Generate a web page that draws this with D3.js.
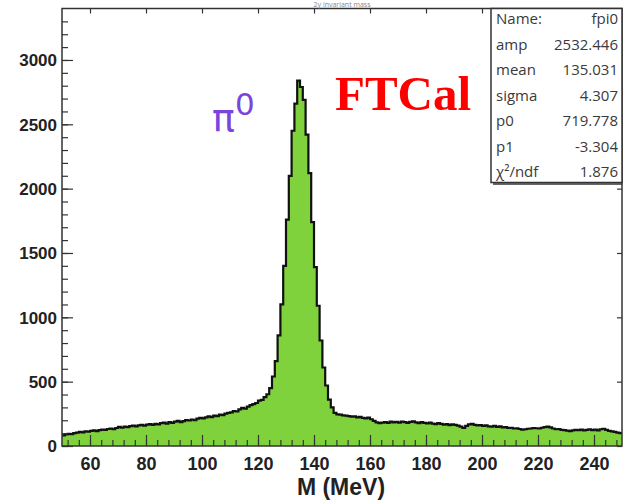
<!DOCTYPE html>
<html>
<head>
<meta charset="utf-8">
<script src="https://cdn.jsdelivr.net/npm/d3@7/dist/d3.min.js"></script>
<style>
  html, body { margin: 0; padding: 0; background: #fff; }
  svg { display: block; }
</style>
</head>
<body>
<svg id="chart" width="625" height="500"></svg>
<script>
// Two-photon invariant mass spectrum, 1 MeV bins from 50 to 250 MeV
const massMin = 50;
const massMax = 250;
const binWidth = 1;
const counts = [
  82, 90, 95, 92, 100, 104, 110, 106, 114, 112,
  118, 122, 116, 124, 128, 125, 132, 136, 130, 140,
  148, 142, 150, 146, 154, 158, 152, 160, 164, 158,
  166, 170, 164, 172, 168, 178, 182, 174, 186, 180,
  190, 196, 186, 194, 202, 198, 206, 200, 212, 218,
  214, 222, 230, 224, 236, 232, 244, 240, 252, 258,
  262, 272, 268, 284, 296, 290, 306, 318, 326, 334,
  352, 358, 380, 402, 450, 540, 660, 860, 1100, 1400,
  1760, 2100, 2450, 2660, 2840, 2790, 2690, 2420, 2120, 1740,
  1390, 1090, 820, 610, 470, 360, 300, 258, 246,
  244, 238, 236, 232, 228, 230, 222, 226, 218, 214, 220,
  208, 196, 184, 178, 182, 186, 180, 190, 184, 188,
  182, 190, 186, 180, 188, 192, 184, 178, 186, 180,
  176, 182, 174, 170, 178, 172, 166, 170, 162, 168,
  164, 158, 150, 140, 156, 168, 172, 164, 160, 162,
  156, 160, 152, 150, 156, 148, 152, 144, 146, 140,
  142, 136, 138, 132, 128, 130, 134, 136, 140, 138,
  136, 142, 146, 150, 144, 136, 130, 132, 126, 124,
  120, 116, 122, 126, 124, 128, 122, 126, 130, 124,
  128, 122, 130, 134, 126, 118, 114, 110, 104, 100
];

const xTicks = [60, 80, 100, 120, 140, 160, 180, 200, 220, 240];
const xMinorTicks = d3.range(52, 250, 4);
const yTicks = [0, 500, 1000, 1500, 2000, 2500, 3000];
const yMinorTicks = d3.range(0, 3400, 100);

// Fit results shown in the statistics box
const statNames = ["Name:", "amp", "mean", "sigma", "p0", "p1", "\u03c7\u00b2/ndf"];
const statValues = ["fpi0", "2532.446", "135.031", "4.307", "719.778", "-3.304", "1.876"];

const svg = d3.select("#chart");
const frame = { left: 62, right: 622, top: 8.5, bottom: 446 };

const x = d3.scaleLinear().domain([massMin, massMax]).range([frame.left, frame.right]);
const y = d3.scaleLinear().domain([0, 3400]).range([frame.bottom, frame.top]);

const bins = counts.map((c, i) => ({ x0: massMin + i * binWidth, x1: massMin + (i + 1) * binWidth, v: c }));

// Histogram as a step area with a black outline
const stepPts = [];
bins.forEach(b => { stepPts.push([b.x0, b.v]); stepPts.push([b.x1, b.v]); });

svg.append("clipPath").attr("id", "plotClip")
  .append("rect").attr("x", frame.left).attr("y", frame.top)
  .attr("width", frame.right - frame.left).attr("height", frame.bottom - frame.top);

const plot = svg.append("g").attr("clip-path", "url(#plotClip)");

plot.append("path")
  .datum(stepPts)
  .attr("fill", "#7fd23c")
  .attr("d", d3.area().x(d => x(d[0])).y0(y(0)).y1(d => y(d[1])));

plot.append("path")
  .datum(stepPts)
  .attr("fill", "none")
  .attr("stroke", "#111")
  .attr("stroke-width", 2.2)
  .attr("stroke-linejoin", "miter")
  .attr("d", d3.line().x(d => x(d[0])).y(d => y(d[1])));

// Axes with ticks drawn inside the frame
const tickStyle = g => {
  g.select(".domain").remove();
  g.selectAll(".tick line").attr("stroke", "#333").attr("stroke-width", 1.2);
};
const labelFont = "Liberation Sans, Arial, sans-serif";

svg.append("g").attr("transform", `translate(0,${frame.bottom})`)
  .call(d3.axisBottom(x).tickValues(xMinorTicks).tickSize(-6).tickFormat(""))
  .call(tickStyle);
const xAxis = svg.append("g").attr("transform", `translate(0,${frame.bottom})`)
  .call(d3.axisBottom(x).tickValues(xTicks).tickSize(-11).tickPadding(0).tickFormat(d3.format("d")))
  .call(tickStyle);
xAxis.selectAll(".tick text")
  .attr("y", 18).attr("dy", "0.35em")
  .attr("font-family", labelFont)
  .attr("font-weight", "bold").attr("font-size", 18).attr("fill", "#222");

svg.append("g").attr("transform", `translate(${frame.left},0)`)
  .call(d3.axisLeft(y).tickValues(yMinorTicks).tickSize(-6).tickFormat(""))
  .call(tickStyle);
const yAxis = svg.append("g").attr("transform", `translate(${frame.left},0)`)
  .call(d3.axisLeft(y).tickValues(yTicks).tickSize(-11).tickPadding(0).tickFormat(d3.format("d")))
  .call(tickStyle);
yAxis.selectAll(".tick text")
  .attr("x", -5).attr("dy", "0.35em")
  .attr("font-family", labelFont)
  .attr("font-weight", "bold").attr("font-size", 17).attr("fill", "#222");

// Opposite-side ticks
svg.append("g").attr("transform", `translate(0,${frame.top})`)
  .call(d3.axisTop(x).tickValues(xTicks).tickSize(-5).tickFormat(""))
  .call(tickStyle);
svg.append("g").attr("transform", `translate(${frame.right},0)`)
  .call(d3.axisRight(y).tickValues(yTicks).tickSize(-5).tickFormat(""))
  .call(tickStyle);

// Frame
svg.append("rect")
  .attr("x", frame.left).attr("y", frame.top)
  .attr("width", frame.right - frame.left).attr("height", frame.bottom - frame.top)
  .attr("fill", "none").attr("stroke", "#333").attr("stroke-width", 1.5);

// Histogram title
svg.append("text")
  .attr("x", 342).attr("y", 7)
  .attr("text-anchor", "middle")
  .attr("font-family", "Open Sans, sans-serif").attr("font-size", 7).attr("fill", "#888")
  .text("2\u03b3 invariant mass");

// Axis title
svg.append("text")
  .attr("x", 341).attr("y", 495)
  .attr("text-anchor", "middle")
  .attr("font-family", labelFont)
  .attr("font-weight", "bold").attr("font-size", 23).attr("fill", "#222")
  .text("M (MeV)");

// Annotations
const pi = svg.append("text")
  .attr("x", 212).attr("y", 131)
  .attr("font-family", "DejaVu Sans, sans-serif").attr("fill", "#7a45dc");
pi.append("tspan").attr("font-size", 38).text("\u03c0");
pi.append("tspan").attr("font-size", 31).attr("dy", -16).text("0");

svg.append("text")
  .attr("x", 335).attr("y", 110)
  .attr("font-family", "Liberation Serif, Times New Roman, serif")
  .attr("font-weight", "bold").attr("font-size", 49).attr("fill", "#ff0000")
  .text("FTCal");

// Statistics box
const box = { x: 491, y: 8.5, w: 131, h: 174 };
svg.append("rect")
  .attr("x", box.x).attr("y", box.y).attr("width", box.w).attr("height", box.h)
  .attr("fill", "#fff").attr("stroke", "#333").attr("stroke-width", 1.5);
svg.append("line")
  .attr("x1", box.x + 2).attr("x2", box.x + box.w).attr("y1", box.y + box.h + 1.5).attr("y2", box.y + box.h + 1.5)
  .attr("stroke", "#333").attr("stroke-width", 1.5);

const rowH = 25.5;
statNames.forEach((n, i) => {
  const yy = 19 + i * rowH;
  svg.append("text")
    .attr("x", box.x + 5).attr("y", yy).attr("dy", "0.35em")
    .attr("font-family", "Open Sans, sans-serif").attr("font-size", 15).attr("fill", "#3a3a3a")
    .text(n);
  svg.append("text")
    .attr("x", box.x + box.w - 4).attr("y", yy).attr("dy", "0.35em")
    .attr("text-anchor", "end")
    .attr("font-family", "Open Sans, sans-serif").attr("font-size", 15).attr("fill", "#3a3a3a")
    .text(statValues[i]);
});
</script>
</body>
</html>
